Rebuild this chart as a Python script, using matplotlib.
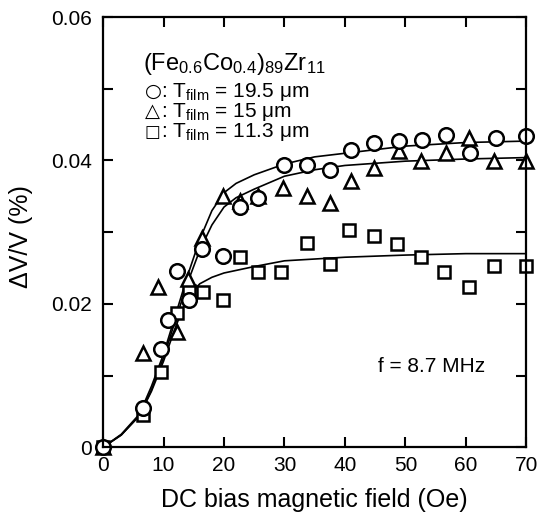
import numpy as np
import matplotlib
matplotlib.use("Agg")
from matplotlib import pyplot as plt
from matplotlib.ticker import MultipleLocator, FixedLocator

plt.rcParams['font.family'] = ['Liberation Sans', 'DejaVu Sans']
plt.rcParams['mathtext.fontset'] = 'custom'
plt.rcParams['mathtext.rm'] = 'Liberation Sans'
plt.rcParams['mathtext.it'] = 'Liberation Sans:italic'

# measured points (DC bias field in Oe, dV/V in %)
x_circ = [0, 6.6, 9.6, 10.8, 12.3, 14.2, 16.3, 19.9, 22.7, 25.7, 29.9, 33.8, 37.6, 41.0, 44.8, 48.9, 52.7, 56.7, 60.7, 65.0, 70]
y_circ = [0, 0.0055, 0.0137, 0.0177, 0.0246, 0.0206, 0.0276, 0.0267, 0.0335, 0.0347, 0.0394, 0.0394, 0.0386, 0.0414, 0.0424,
          0.0427, 0.0428, 0.0435, 0.0411, 0.0431, 0.0434]

x_tri = [0, 6.6, 9.1, 12.3, 14.1, 16.3, 19.9, 22.7, 25.7, 29.7, 33.8, 37.6, 41.0, 44.8, 48.9, 52.6, 56.7, 60.5, 64.7, 70]
y_tri = [0, 0.0132, 0.0223, 0.0161, 0.0234, 0.0292, 0.0351, 0.0344, 0.0351, 0.0362, 0.0351, 0.0340, 0.0372, 0.0390,
         0.0413, 0.0399, 0.0411, 0.0431, 0.0399, 0.0399]

x_sq = [0, 6.6, 9.6, 12.3, 14.2, 16.6, 19.9, 22.7, 25.7, 29.5, 33.8, 37.6, 40.6, 44.8, 48.6, 52.6, 56.4, 60.5, 64.7, 70]
y_sq = [0, 0.0045, 0.0105, 0.0187, 0.0218, 0.0216, 0.0206, 0.0265, 0.0244, 0.0244, 0.0285, 0.0255, 0.0303, 0.0295,
        0.0284, 0.0265, 0.0244, 0.0223, 0.0253, 0.0253]

# fitted curves
fit_x = [0, 3, 6, 8, 10, 12, 14, 16, 18, 20, 22, 25, 30, 35, 40, 50, 60, 70]
fit_circ = [0, 0.0018, 0.0046, 0.0085, 0.013, 0.0185, 0.024, 0.029, 0.033, 0.0355, 0.0368, 0.038, 0.0395, 0.0405,
            0.041, 0.042, 0.0425, 0.0427]
fit_tri = [0, 0.0017, 0.0044, 0.008, 0.0125, 0.0178, 0.023, 0.0275, 0.031, 0.0335, 0.0348, 0.036, 0.0378, 0.0387,
           0.0393, 0.0399, 0.0402, 0.0404]
fit_sq_x = [0, 3, 6, 8, 10, 12, 14, 16, 18, 20, 25, 30, 40, 50, 60, 70]
fit_sq = [0, 0.0017, 0.0044, 0.0078, 0.012, 0.0168, 0.021, 0.0228, 0.0237, 0.0243, 0.0252, 0.026, 0.0265, 0.0268,
          0.027, 0.027]

legend_syms = ['\u25cb', '\u25b3', '\u25a1']
legend_txt = [': T$_{\\mathrm{film}}$ = 19.5 \u03bcm',
              ': T$_{\\mathrm{film}}$ = 15 \u03bcm',
              ': T$_{\\mathrm{film}}$ = 11.3 \u03bcm']
sym_size = [14, 14, 12]

fig = plt.figure(figsize=(5.37, 5.17), dpi=100)
ax = fig.add_axes([0.192, 0.135, 0.788, 0.832])

ax.plot(fit_x, fit_circ, color='black', lw=1.2)
ax.plot(fit_x, fit_tri, color='black', lw=1.2)
ax.plot(fit_sq_x, fit_sq, color='black', lw=1.2)

mk = dict(linestyle='none', markerfacecolor='white', markeredgecolor='black', markeredgewidth=1.8, clip_on=False)
ax.plot(x_sq, y_sq, marker='s', markersize=8.5, **mk)
ax.plot(x_tri, y_tri, marker='^', markersize=10, **mk)
ax.plot(x_circ, y_circ, marker='o', markersize=10.5, **mk)

ax.set_xlim(0, 70)
ax.set_ylim(0, 0.06)
ax.xaxis.set_major_locator(MultipleLocator(10))
ax.yaxis.set_major_locator(FixedLocator([0, 0.02, 0.04, 0.06]))
ax.yaxis.set_minor_locator(FixedLocator([0.01, 0.03, 0.05]))
ax.set_yticklabels(['0', '0.02', '0.04', '0.06'])
ax.tick_params(which='both', direction='in', top=True, right=True, length=7, width=1.5, labelsize=15)
ax.tick_params(axis='x', pad=6)
ax.tick_params(axis='y', pad=8)
for s in ax.spines.values():
    s.set_linewidth(1.6)

ax.set_xlabel('DC bias magnetic field (Oe)', fontsize=18)
ax.set_ylabel('\u0394V/V (%)', fontsize=18)
ax.xaxis.set_label_coords(0.5, -0.095)
ax.yaxis.set_label_coords(-0.165, 0.49)

ax.text(0.094, 0.877, r'(Fe$_{0.6}$Co$_{0.4}$)$_{89}$Zr$_{11}$', transform=ax.transAxes, fontsize=17,
        va='baseline')
for i in range(3):
    yb = 0.814 - i * 0.0465
    ax.text(0.099, yb, legend_syms[i], transform=ax.transAxes, fontsize=sym_size[i], va='baseline',
            family='DejaVu Sans', fontweight='bold')
    ax.text(0.137, yb, legend_txt[i], transform=ax.transAxes, fontsize=15, va='baseline')
ax.text(0.65, 0.188, 'f = 8.7 MHz', transform=ax.transAxes, fontsize=15, va='center')

fig.savefig('out.png', dpi=100)
